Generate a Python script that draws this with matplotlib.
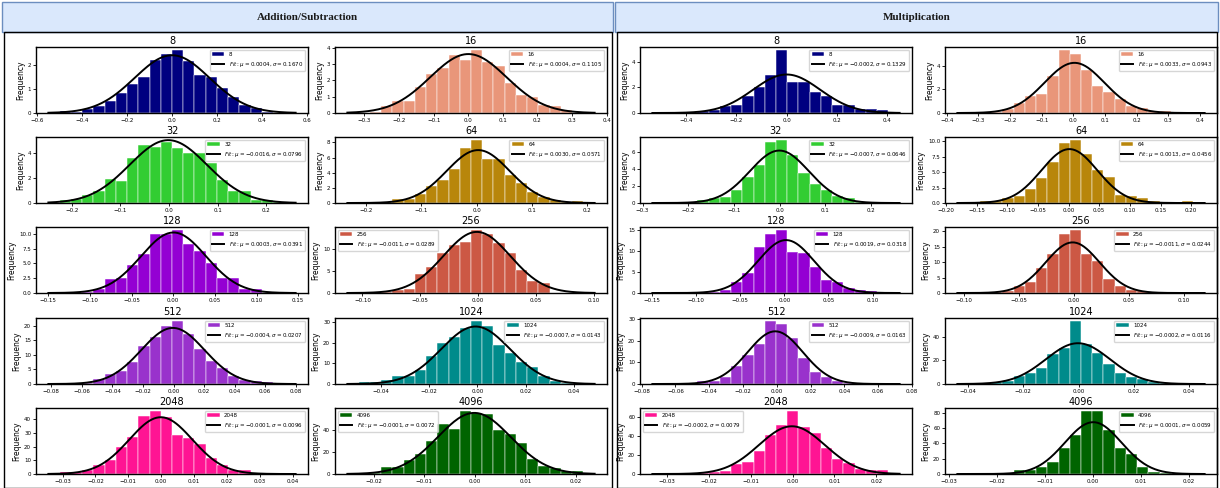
import numpy as np
import matplotlib
matplotlib.use("Agg")
import matplotlib.pyplot as plt
from matplotlib.patches import Rectangle
from matplotlib.ticker import MaxNLocator

# bit widths, one histogram per width in each section
sizes = ["8", "16", "32", "64", "128", "256", "512", "1024", "2048", "4096"]

# fitted normal parameters (mu, sigma), read from the legends
add_mu = [0.0004, 0.0004, -0.0016, 0.0030, 0.0003, -0.0011, -0.0004, -0.0007, -0.0001, -0.0001]
add_sigma = [0.1670, 0.1105, 0.0796, 0.0571, 0.0391, 0.0289, 0.0207, 0.0143, 0.0096, 0.0072]
mul_mu = [-0.0002, 0.0033, -0.0007, 0.0013, 0.0019, -0.0011, -0.0009, -0.0002, -0.0002, 0.0001]
mul_sigma = [0.1329, 0.0943, 0.0646, 0.0456, 0.0318, 0.0244, 0.0163, 0.0116, 0.0079, 0.0059]

# histogram range (first edge, last edge), 20 bins each
add_range = [(-0.500, 0.500), (-0.317, 0.333), (-0.225, 0.237), (-0.214, 0.194), (-0.1365, 0.1335),
             (-0.1033, 0.0910), (-0.0746, 0.0726), (-0.0492, 0.0440), (-0.0309, 0.0375), (-0.0230, 0.0215)]
mul_range = [(-0.489, 0.404), (-0.331, 0.379), (-0.254, 0.238), (-0.163, 0.2035), (-0.137, 0.118),
             (-0.0955, 0.1085), (-0.0670, 0.0661), (-0.0397, 0.0415), (-0.0309, 0.0229), (-0.0259, 0.0210)]

# bin heights (density)
add_heights = [
    [0.10, 0.05, 0.15, 0.30, 0.50, 0.83, 1.20, 1.47, 2.18, 2.45, 2.60, 2.15, 1.57, 1.47, 1.03, 0.65, 0.33, 0.20, 0.05, 0.02],
    [0.03, 0.05, 0.45, 0.75, 0.75, 1.60, 2.40, 2.75, 3.55, 3.25, 3.85, 3.10, 2.90, 1.85, 1.10, 0.95, 0.50, 0.45, 0.20, 0.03],
    [0.25, 0.30, 0.65, 0.95, 1.95, 1.75, 3.55, 4.60, 4.45, 4.90, 4.35, 4.00, 3.95, 3.15, 1.80, 0.95, 0.95, 0.20, 0.20, 0.05],
    [0.05, 0.05, 0.15, 0.58, 0.58, 1.25, 2.20, 3.00, 4.50, 7.30, 8.30, 5.80, 5.85, 3.70, 2.60, 1.50, 0.80, 0.45, 0.15, 0.20],
    [0.20, 0.05, 0.10, 0.70, 2.30, 2.50, 4.80, 6.60, 9.90, 10.0, 10.6, 8.30, 7.00, 5.10, 2.60, 2.50, 0.75, 0.75, 0.05, 0.0],
    [0.05, 0.10, 0.30, 0.75, 0.80, 4.20, 5.90, 9.10, 10.8, 11.6, 14.2, 13.3, 11.4, 9.10, 5.30, 2.65, 2.35, 0.10, 0.05, 0.02],
    [0.10, 0.10, 0.20, 1.80, 3.30, 4.60, 7.60, 13.2, 16.0, 19.8, 21.6, 17.2, 12.1, 8.00, 5.40, 2.90, 1.40, 0.90, 0.70, 0.10],
    [0.8, 0.8, 1.7, 3.9, 3.9, 6.8, 13.5, 19.7, 22.7, 27.0, 30.5, 28.0, 18.8, 15.2, 10.5, 8.2, 3.8, 1.6, 0.3, 0.1],
    [1.3, 1.3, 3.0, 6.5, 10.3, 19.5, 27.0, 42.3, 46.0, 41.5, 28.5, 26.3, 21.8, 12.0, 6.5, 2.7, 2.7, 0.3, 0.1, 0.05],
    [0.3, 0.5, 6.0, 6.0, 13.0, 18.5, 29.5, 45.0, 40.5, 57.0, 55.5, 54.5, 40.0, 36.5, 28.5, 13.5, 7.5, 5.3, 2.3, 2.3],
]
mul_heights = [
    [0.02, 0.05, 0.08, 0.15, 0.25, 0.55, 0.60, 1.30, 2.00, 2.95, 4.90, 2.40, 2.40, 1.60, 1.30, 0.65, 0.60, 0.35, 0.30, 0.20],
    [0.02, 0.05, 0.10, 0.30, 0.85, 1.40, 1.60, 3.10, 5.30, 5.00, 3.60, 2.30, 1.75, 1.15, 0.55, 0.45, 0.20, 0.15, 0.05, 0.03],
    [0.02, 0.05, 0.10, 0.40, 0.60, 0.75, 1.50, 3.10, 4.50, 7.20, 7.40, 5.70, 3.50, 2.20, 1.55, 0.85, 0.60, 0.12, 0.10, 0.03],
    [0.05, 0.25, 0.25, 0.80, 1.10, 2.20, 4.00, 6.60, 9.80, 10.2, 7.90, 5.30, 4.20, 1.30, 1.10, 0.75, 0.35, 0.05, 0.0, 0.30],
    [0.05, 0.05, 0.10, 0.25, 0.25, 0.75, 2.60, 4.80, 10.8, 14.0, 14.9, 9.70, 9.60, 6.10, 3.10, 2.50, 1.10, 0.80, 0.40, 0.30],
    [0.05, 0.30, 0.30, 0.60, 2.20, 3.50, 8.10, 12.7, 19.1, 20.3, 12.7, 10.3, 4.60, 2.20, 1.00, 0.60, 0.30, 0.05, 0.40, 0.05],
    [0.02, 0.05, 0.30, 1.50, 1.60, 3.10, 8.30, 13.3, 18.7, 29.2, 28.0, 21.5, 12.2, 5.80, 3.40, 1.50, 0.40, 0.10, 0.05, 0.02],
    [0.5, 1.0, 1.5, 2.8, 6.5, 9.0, 13.5, 25.0, 30.5, 53.0, 34.0, 26.0, 16.5, 9.0, 5.5, 4.0, 1.5, 0.5, 0.2, 0.1],
    [0.05, 0.1, 0.3, 0.8, 2.0, 3.0, 10.8, 12.5, 24.5, 41.5, 51.5, 66.5, 50.0, 43.0, 27.0, 15.5, 12.0, 5.5, 4.2, 4.0],
    [0.1, 0.2, 0.5, 1.8, 4.8, 5.0, 9.0, 15.5, 34.0, 51.0, 82.0, 82.0, 57.0, 33.5, 26.0, 9.0, 3.0, 1.0, 0.3, 0.1],
]

colors = ["navy", "darksalmon", "limegreen", "darkgoldenrod", "darkviolet",
          "#CC5844", "darkorchid", "darkcyan", "deeppink", "darkgreen"]
add_legend_loc = ["upper right"] * 10
add_legend_loc[5] = "upper left"
add_legend_loc[9] = "upper left"
mul_legend_loc = ["upper right"] * 10
mul_legend_loc[8] = "upper left"

W, H = 1220, 488
fig = plt.figure(figsize=(W / 100, H / 100), dpi=100)

# pixel layout of the grid
col_x = [[36, 335], [640, 945]]
row_top = [47, 137, 227, 318, 408]
ax_w, ax_h = 272, 66
auto_steps = [1, 2, 2.5, 5, 10]


def px_rect(x0, y0, w, h):
    return [x0 / W, 1 - (y0 + h) / H, w / W, h / H]


def draw_panel(ax, label, color, mu, sigma, rng, heights, loc):
    edges = np.linspace(rng[0], rng[1], len(heights) + 1)
    centers = (edges[:-1] + edges[1:]) / 2
    ax.hist(centers, bins=edges, weights=heights, color=color,
            edgecolor="white", linewidth=0.35, label=label)
    # fit curve over the histogram x-limits, like the original
    pad = 0.05 * (rng[1] - rng[0])
    x = np.linspace(rng[0] - pad, rng[1] + pad, 200)
    y = np.exp(-(x - mu) ** 2 / (2 * sigma ** 2)) / (sigma * np.sqrt(2 * np.pi))
    ax.plot(x, y, color="black", linewidth=1.4,
            label=r"$Fit: \mu = %.4f, \sigma = %.4f$" % (mu, sigma))
    ax.set_title(label, fontsize=7, pad=2)
    ax.set_ylabel("Frequency", fontsize=5.5, labelpad=2)
    ax.xaxis.set_major_locator(MaxNLocator(9, steps=auto_steps))
    ax.yaxis.set_major_locator(MaxNLocator(5, steps=auto_steps))
    ax.tick_params(labelsize=4, length=2, width=0.6, pad=1.5)
    for sp in ax.spines.values():
        sp.set_linewidth(1.0)
    ax.legend(loc=loc, fontsize=4, borderpad=0.4, handlelength=2.2)


sections = [
    ("Addition/Subtraction", add_mu, add_sigma, add_range, add_heights, add_legend_loc, (2, 613)),
    ("Multiplication", mul_mu, mul_sigma, mul_range, mul_heights, mul_legend_loc, (615, 1218)),
]

for s, (name, mus, sigmas, ranges, heights, locs, (hx0, hx1)) in enumerate(sections):
    # header box
    fig.add_artist(Rectangle((hx0 / W, 1 - 32 / H), (hx1 - hx0) / W, 30 / H,
                             transform=fig.transFigure, facecolor="#dae8fc",
                             edgecolor="#6c8ebf", linewidth=1.0))
    fig.text((hx0 + hx1) / 2 / W, 1 - 17 / H, name, ha="center", va="center",
             fontsize=8, fontweight="bold", family="Liberation Serif", color="#1a1a1a")
    # section frame
    fig.add_artist(Rectangle(((hx0 + 2) / W, 0), (hx1 - hx0 - 3) / W, 1 - 32 / H,
                             transform=fig.transFigure, facecolor="none",
                             edgecolor="black", linewidth=1.0))
    for i in range(10):
        r, c = divmod(i, 2)
        ax = fig.add_axes(px_rect(col_x[s][c], row_top[r], ax_w, ax_h))
        draw_panel(ax, sizes[i], colors[i], mus[i], sigmas[i], ranges[i], heights[i], locs[i])

fig.savefig("out.png", dpi=100)
